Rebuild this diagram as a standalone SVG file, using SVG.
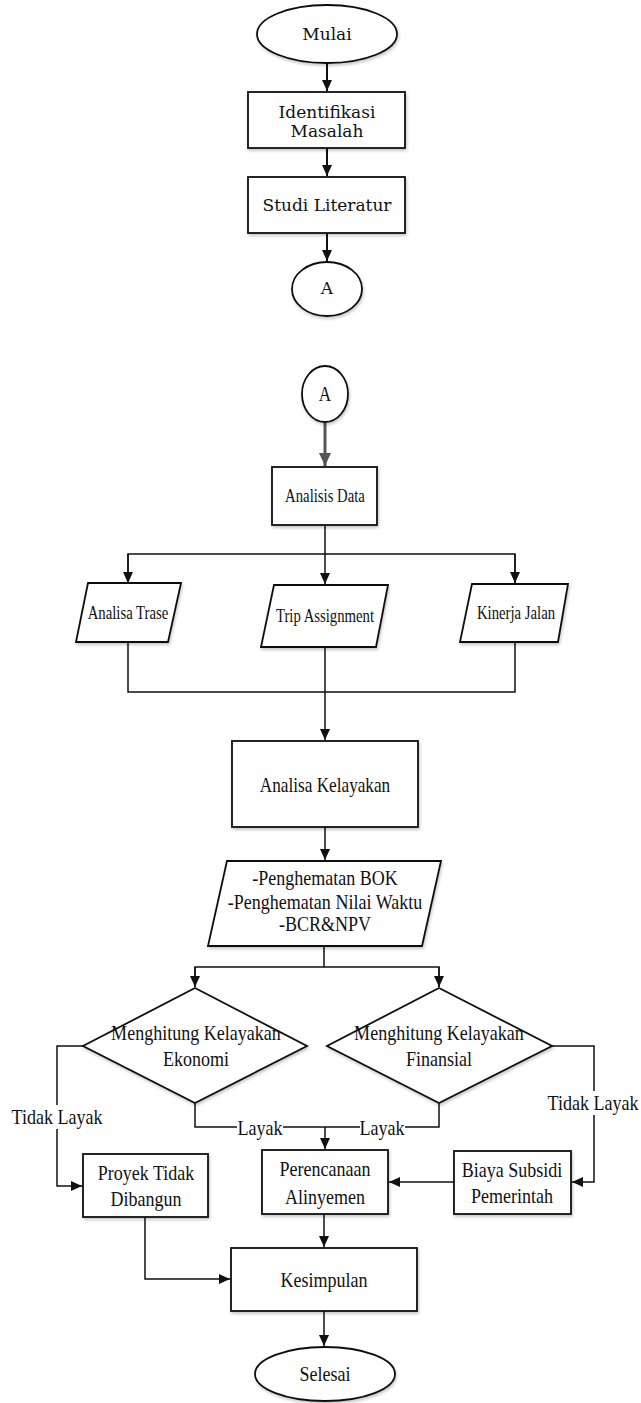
<svg xmlns="http://www.w3.org/2000/svg" width="641" height="1403" viewBox="0 0 641 1403">
<defs>
<marker id="ah" markerUnits="userSpaceOnUse" markerWidth="12" markerHeight="10" refX="11" refY="5" orient="auto"><path d="M0,0 L11,5 L0,10 z" fill="#111"/></marker>
<marker id="ahg" markerUnits="userSpaceOnUse" markerWidth="14" markerHeight="12" refX="13" refY="6" orient="auto"><path d="M0,0 L13,6 L0,12 z" fill="#555"/></marker>
<filter id="sh" x="-10%" y="-10%" width="125%" height="130%"><feDropShadow dx="1" dy="2" stdDeviation="1.5" flood-color="#000" flood-opacity="0.22"/></filter>
<style>
.n{fill:#fff;stroke:#111;stroke-width:1.8;filter:url(#sh)}
.tt{font-family:"DejaVu Serif","Liberation Serif",serif;font-size:17px;fill:#111;text-anchor:middle}
.t{font-family:"Liberation Serif",serif;fill:#111;text-anchor:middle}
.c{fill:none;stroke:#111;stroke-width:1.5}
.c2{fill:none;stroke:#111;stroke-width:2}
.bg{fill:#fff}
</style>
</defs>
<g id="connectors">
<line class="c2" x1="327" y1="63" x2="327" y2="91" marker-end="url(#ah)"/>
<line class="c2" x1="327" y1="148" x2="327" y2="176" marker-end="url(#ah)"/>
<line class="c2" x1="327" y1="233" x2="327" y2="261" marker-end="url(#ah)"/>
<line x1="325" y1="423" x2="325" y2="466" stroke="#555" stroke-width="3" marker-end="url(#ahg)"/>
<polyline class="c" points="325,525 325,554"/>
<polyline class="c" points="128,583 128,554 515,554 515,583" marker-start="url(#ah)"/>
<line class="c" x1="128" y1="554" x2="128" y2="583" marker-end="url(#ah)"/>
<line class="c" x1="515" y1="554" x2="515" y2="583" marker-end="url(#ah)"/>
<line class="c" x1="325" y1="554" x2="325" y2="584" marker-end="url(#ah)"/>
<polyline class="c" points="128,642 128,692 515,692 515,642"/>
<line class="c" x1="325" y1="647" x2="325" y2="740" marker-end="url(#ah)"/>
<line class="c" x1="325" y1="827" x2="325" y2="860" marker-end="url(#ah)"/>
<polyline class="c" points="324,946 324,967"/>
<polyline class="c" points="195,987 195,967 439,967 439,987"/>
<line class="c" x1="195" y1="967" x2="195" y2="987" marker-end="url(#ah)"/>
<line class="c" x1="439" y1="967" x2="439" y2="987" marker-end="url(#ah)"/>
<polyline class="c" points="83,1046 57,1046 57,1186 82,1186" marker-end="url(#ah)"/>
<polyline class="c" points="195,1103 195,1127 439,1127 439,1103"/>
<line class="c" x1="325" y1="1127" x2="325" y2="1149" marker-end="url(#ah)"/>
<polyline class="c" points="552,1046 594,1046 594,1182 572,1182" marker-end="url(#ah)"/>
<line class="c" x1="454" y1="1182" x2="389" y2="1182" marker-end="url(#ah)"/>
<polyline class="c" points="145,1217 145,1279 230,1279" marker-end="url(#ah)"/>
<line class="c" x1="324" y1="1214" x2="324" y2="1247" marker-end="url(#ah)"/>
<line class="c" x1="324" y1="1311" x2="324" y2="1346" marker-end="url(#ah)"/>
<rect class="bg" x="12" y="1105" width="91" height="24"/>
<text class="t" font-size="22" transform="translate(57,1124) scale(0.82,1)">Tidak Layak</text>
<rect class="bg" x="547" y="1091" width="93" height="24"/>
<text class="t" font-size="22" transform="translate(593,1110) scale(0.82,1)">Tidak Layak</text>
<rect class="bg" x="237" y="1117" width="46" height="22"/>
<text class="t" font-size="22" transform="translate(260,1135) scale(0.82,1)">Layak</text>
<rect class="bg" x="360" y="1117" width="45" height="22"/>
<text class="t" font-size="22" transform="translate(382,1135) scale(0.82,1)">Layak</text>
</g>
<g id="mulai">
<ellipse class="n" cx="327" cy="34" rx="70" ry="29"/>
<text class="tt" x="327" y="40">Mulai</text>
</g>
<g id="identifikasi">
<rect class="n" x="248" y="92" width="157" height="56"/>
<text class="tt" x="327" y="118">Identifikasi</text>
<text class="tt" x="327" y="137">Masalah</text>
</g>
<g id="studi">
<rect class="n" x="248" y="177" width="157" height="56"/>
<text class="tt" x="327" y="211">Studi Literatur</text>
</g>
<g id="a1">
<ellipse class="n" cx="327" cy="289" rx="35" ry="27"/>
<text class="tt" x="327" y="294" font-size="15">A</text>
</g>
<g id="a2">
<ellipse class="n" cx="325" cy="394" rx="23" ry="28"/>
<text class="t" font-size="21" transform="translate(325,401) scale(0.82,1)">A</text>
</g>
<g id="analisis-data">
<rect class="n" x="272" y="467" width="105" height="58"/>
<text class="t" font-size="18" transform="translate(325,502) scale(0.82,1)">Analisis Data</text>
</g>
<g id="analisa-trase">
<polygon class="n" points="88,583 181,583 168,642 76,642"/>
<text class="t" font-size="18" transform="translate(128,619) scale(0.82,1)">Analisa Trase</text>
</g>
<g id="trip">
<polygon class="n" points="274,585 388,585 376,647 261,647"/>
<text class="t" font-size="18" transform="translate(325,622) scale(0.82,1)">Trip Assignment</text>
</g>
<g id="kinerja">
<polygon class="n" points="472,584 568,584 558,642 460,642"/>
<text class="t" font-size="18" transform="translate(516,619) scale(0.82,1)">Kinerja Jalan</text>
</g>
<g id="analisa-kelayakan">
<rect class="n" x="232" y="741" width="186" height="86"/>
<text class="t" font-size="21" transform="translate(325,792) scale(0.82,1)">Analisa Kelayakan</text>
</g>
<g id="penghematan">
<polygon class="n" points="227,861 441,861 422,946 208,946"/>
<text class="t" font-size="22" transform="translate(325,0) scale(0.82,1)"><tspan x="0" y="885">-Penghematan BOK</tspan><tspan x="0" y="909">-Penghematan Nilai Waktu</tspan><tspan x="0" y="931">-BCR&amp;NPV</tspan></text>
</g>
<g id="ekonomi">
<polygon class="n" points="195,988 307,1046 195,1103 83,1046"/>
<text class="t" font-size="22" transform="translate(196,0) scale(0.82,1)"><tspan x="0" y="1040">Menghitung Kelayakan</tspan><tspan x="0" y="1066">Ekonomi</tspan></text>
</g>
<g id="finansial">
<polygon class="n" points="439,988 552,1046 439,1103 327,1046"/>
<text class="t" font-size="22" transform="translate(439,0) scale(0.82,1)"><tspan x="0" y="1040">Menghitung Kelayakan</tspan><tspan x="0" y="1066">Finansial</tspan></text>
</g>
<g id="proyek">
<rect class="n" x="83" y="1154" width="125" height="63"/>
<text class="t" font-size="22" transform="translate(146,0) scale(0.82,1)"><tspan x="0" y="1180">Proyek Tidak</tspan><tspan x="0" y="1206">Dibangun</tspan></text>
</g>
<g id="perencanaan">
<rect class="n" x="262" y="1150" width="126" height="64"/>
<text class="t" font-size="22" transform="translate(325,0) scale(0.82,1)"><tspan x="0" y="1176">Perencanaan</tspan><tspan x="0" y="1204">Alinyemen</tspan></text>
</g>
<g id="biaya">
<rect class="n" x="454" y="1151" width="117" height="63"/>
<text class="t" font-size="22" transform="translate(512,0) scale(0.82,1)"><tspan x="0" y="1177">Biaya Subsidi</tspan><tspan x="0" y="1203">Pemerintah</tspan></text>
</g>
<g id="kesimpulan">
<rect class="n" x="231" y="1248" width="186" height="63"/>
<text class="t" font-size="22" transform="translate(324,1287) scale(0.82,1)">Kesimpulan</text>
</g>
<g id="selesai">
<ellipse class="n" cx="325" cy="1374" rx="70" ry="27"/>
<text class="t" font-size="22" transform="translate(325,1381) scale(0.82,1)">Selesai</text>
</g>
</svg>
